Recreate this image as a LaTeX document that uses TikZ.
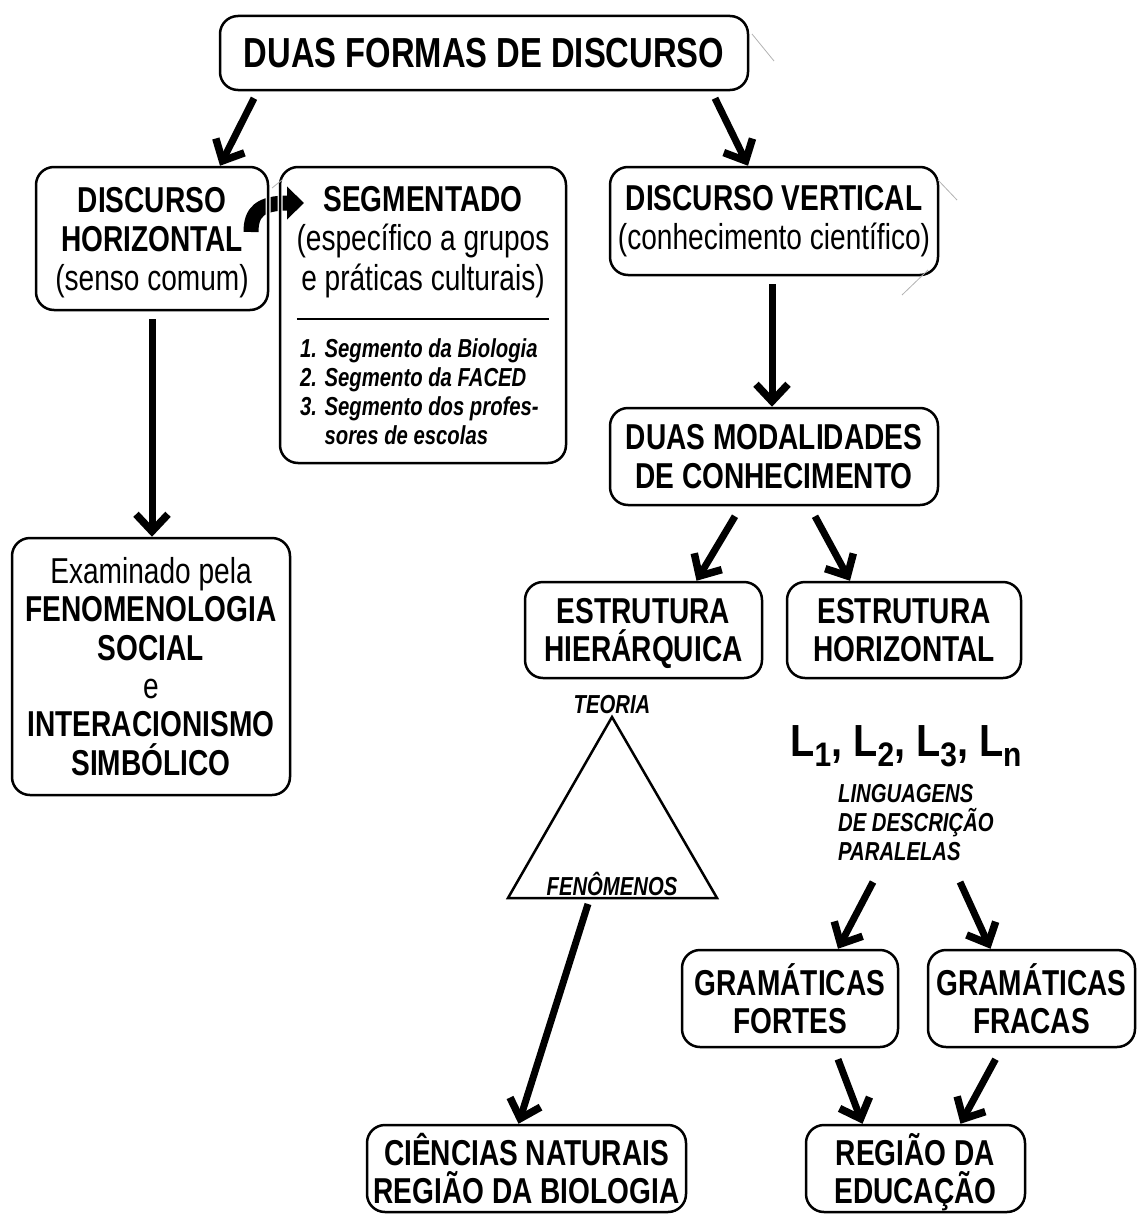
\documentclass[tikz,border=0pt]{standalone}
\usepackage{fontspec}
\setmainfont{Liberation Sans}[FakeStretch=0.78]
\newfontfamily\widefont{Liberation Sans}[FakeStretch=0.88]
\usetikzlibrary{arrows.meta,calc}
\tikzset{
  box/.style={draw, line width=2.5pt, rounded corners=18pt, align=center,
    inner sep=0pt, preaction={draw=white, line width=5pt},
    font=\fontsize{36}{39}\selectfont},
  arr/.style={line width=7pt, -{Straight Barb[length=17pt,width=32pt,line width=7.5pt]}},
  ital/.style={font=\fontsize{26}{29}\selectfont\bfseries\itshape, inner sep=0pt},
  faint/.style={draw=black!30, line width=0.8pt}
}
\newcommand\lsub[1]{\raisebox{-0.24em}{\fontsize{34}{34}\selectfont #1}}
\begin{document}
\begin{tikzpicture}[x=1pt,y=-1pt]
\useasboundingbox (0,0) rectangle (1137,1215);
% curved arrow (drawn first, boxes go over it)
\coordinate (cs) at (251,232);
\coordinate (ce) at (304,203);
\draw[line width=15pt, -{Triangle[length=17pt,width=32pt]}] (cs) .. controls (251,212) and (260,203) .. (ce);
% boxes
\node[box, minimum width=528pt, minimum height=74pt, font=\fontsize{42}{46}\selectfont\bfseries] (top) at (484,53) {DUAS FORMAS DE DISCURSO};
\node[box, minimum width=232pt, minimum height=143pt, text depth=0pt] (dh) at (152,238.5) {\textbf{DISCURSO}\\\textbf{HORIZONTAL}\\(senso comum)};
\node[box, minimum width=286pt, minimum height=296pt] (seg) at (423,315) {};
\node[align=center, inner sep=0pt, text depth=0pt, font=\fontsize{36}{39.5}\selectfont] (segt) at (423,238) {\textbf{SEGMENTADO}\\(específico a grupos\\e práticas culturais)};
\draw[line width=1.2pt] ([xshift=18pt,yshift=-4pt]seg.west) coordinate (sl) -- ([xshift=-18pt,yshift=-4pt]seg.east) coordinate (sr);
\node[ital, anchor=north west, align=left] (list) at (300,338) {1. Segmento da Biologia\\2. Segmento da FACED\\3. Segmento dos profes-\\\hphantom{3. }sores de escolas};
\node[box, minimum width=328pt, minimum height=108pt] (dv) at (774,221) {\textbf{DISCURSO VERTICAL}\\(conhecimento científico)};
\node[box, minimum width=328pt, minimum height=97pt, font=\fontsize{36}{39}\selectfont\bfseries] (dm) at (774,456.5) {DUAS MODALIDADES\\DE CONHECIMENTO};
\node[box, minimum width=237pt, minimum height=96pt, text depth=0pt, font=\fontsize{36}{38}\selectfont\bfseries] (eh) at (643.5,630) {ESTRUTURA\\HIERÁRQUICA};
\node[box, minimum width=234pt, minimum height=96pt, font=\fontsize{36}{38}\selectfont\bfseries] (eho) at (904,630) {ESTRUTURA\\HORIZONTAL};
\node[box, minimum width=278pt, minimum height=257pt, font=\fontsize{36}{38.4}\selectfont] (ex) at (151,666.5) {Examinado pela\\\textbf{FENOMENOLOGIA}\\\textbf{SOCIAL}\\e\\\textbf{INTERACIONISMO}\\\textbf{SIMBÓLICO}};
\node[box, minimum width=216pt, minimum height=97pt, font=\fontsize{36}{38}\selectfont\bfseries] (gf) at (790,998.5) {GRAMÁTICAS\\FORTES};
\node[box, minimum width=207pt, minimum height=97pt, font=\fontsize{36}{38}\selectfont\bfseries] (gfr) at (1031.5,998.5) {GRAMÁTICAS\\FRACAS};
\node[box, minimum width=319pt, minimum height=87pt, font=\fontsize{36}{38}\selectfont\bfseries] (cn) at (526.5,1168.5) {CIÊNCIAS NATURAIS\\REGIÃO DA BIOLOGIA};
\node[box, minimum width=219pt, minimum height=87pt, text depth=0pt, font=\fontsize{36}{38}\selectfont\bfseries] (re) at (915.5,1168.5) {REGIÃO DA\\EDUCAÇÃO};
% triangle
\coordinate (ta) at (612,717);
\coordinate (tl) at (508,898);
\coordinate (tr) at (717,898);
\draw[line width=2.5pt, line join=miter] (ta) -- (tl) -- (tr) -- cycle;
\node[ital] (teoria) at (612,705) {TEORIA};
\node[ital] (fen) at (612,884) {FENÔMENOS};
% L's
\node[inner sep=0pt, anchor=base, font=\widefont\fontsize{45}{48}\selectfont\bfseries] (ls) at (906,756) {L\lsub{1}, L\lsub{2}, L\lsub{3}, L\lsub{n}};
\node[ital, anchor=north west, align=left] (ling) at (838,784) {LINGUAGENS\\DE DESCRIÇÃO\\PARALELAS};
% arrows
\coordinate (g1s) at (873,882);
\coordinate (g2s) at (960,882);
\draw[arr] ([xshift=-230pt,yshift=-7pt]top.south) -- ([xshift=68pt]dh.north);
\draw[arr] ([xshift=231pt,yshift=-7pt]top.south) -- ([xshift=-26pt]dv.north);
\draw[arr] ([yshift=-8pt]dh.south) -- (ex.north -| dh.south);
\draw[arr] ([xshift=-2pt,yshift=-8pt]dv.south) -- ([xshift=-2pt]dm.north);
\draw[arr] ([xshift=-39pt,yshift=-10pt]dm.south) -- ([xshift=53pt]eh.north);
\draw[arr] ([xshift=41pt,yshift=-10pt]dm.south) -- ([xshift=-54pt]eho.north);
\draw[arr] ([xshift=-24pt,yshift=-8pt]fen.south) -- ([xshift=-8pt]cn.north);
\draw[arr] (g1s) -- ([xshift=48pt]gf.north);
\draw[arr] (g2s) -- ([xshift=-41pt]gfr.north);
\draw[arr] ([xshift=48pt,yshift=-11pt]gf.south) -- ([xshift=-53pt]re.north);
\draw[arr] ([xshift=-36pt,yshift=-11pt]gfr.south) -- ([xshift=45pt]re.north);
% faint stray lines
\coordinate (f1a) at (752,34); \coordinate (f1b) at (774,61);
\coordinate (f2a) at (938,180); \coordinate (f2b) at (957,200);
\coordinate (f3a) at (928,270); \coordinate (f3b) at (902,295);
\coordinate (f4a) at (272,188); \coordinate (f4b) at (282,180);
\draw[faint] (f1a) -- (f1b);
\draw[faint] (f2a) -- (f2b);
\draw[faint] (f3a) -- (f3b);
\draw[faint] (f4a) -- (f4b);
\end{tikzpicture}
\end{document}
